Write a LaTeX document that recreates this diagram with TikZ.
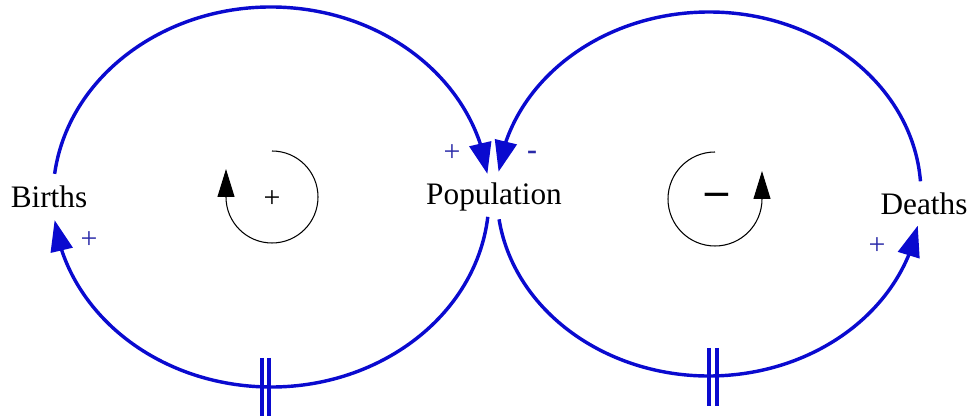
\documentclass[tikz,border=0pt]{standalone}
\usepackage{fontspec}
\setmainfont{Liberation Serif}
\usetikzlibrary{arrows.meta,bending}
\definecolor{linkblue}{HTML}{0A0ACF}
\definecolor{signblue}{HTML}{2A2AA8}

\begin{document}
\begin{tikzpicture}[
  x=0.02cm, y=0.02cm,
  var/.style={font=\fontsize{17.8}{20}\selectfont, inner sep=0pt, anchor=base},
  link/.style={draw=linkblue, line width=1.95pt, -{Triangle[length=0.62cm, width=0.44cm]}},
  delay/.style={draw=linkblue, line width=1.9pt},
  sgn/.style={text=signblue, font=\fontsize{17}{20}\selectfont, inner sep=0pt},
  loopline/.style={draw=black, line width=0.6pt, -{Triangle[length=0.56cm, width=0.34cm]}},
  looplbl/.style={font=\fontsize{17}{20}\selectfont, inner sep=0pt},
]
\useasboundingbox (0,0) rectangle (971,-418);

% variables
\node[var] (births) at (49,-208) {Births};
\node[var] (pop) at (494,-205) {Population};
\node[var] (deaths) at (924,-215) {Deaths};

% loop centres
\coordinate (c1) at (271,-197);
\coordinate (c2) at (709,-194);

% causal links
\draw[link] (c1) ++(173:218 and 190) arc[start angle=173, end angle=7, x radius=218, y radius=190];
\draw[link] (c1) ++(-6:218 and 190) arc[start angle=-6, end angle=-173, x radius=218, y radius=190];
\draw[link] (c2) ++(4:212 and 182) arc[start angle=4, end angle=173, x radius=212, y radius=182];
\draw[link] (c2) ++(188:212 and 182) arc[start angle=188, end angle=350, x radius=212, y radius=182];

% delays
\coordinate (d1) at (265.5,-388);
\coordinate (d2) at (713,-377);
\draw[delay] (d1) ++(-3.5,30) -- ++(0,-58);
\draw[delay] (d1) ++(3.5,30) -- ++(0,-58);
\draw[delay] (d2) ++(-4,29) -- ++(0,-58);
\draw[delay] (d2) ++(4,29) -- ++(0,-58);

% link polarities
\node[sgn] (s1) at (452,-153) {+};
\node[sgn, font=\fontsize{17}{20}\selectfont\bfseries] (s2) at (532,-155) {-};
\node[sgn] (s3) at (89,-240) {+};
\node[sgn] (s4) at (877,-246) {+};

% loop markers
\coordinate (r1) at (272,-197);
\coordinate (r2) at (715,-199);
\draw[loopline] (r1) ++(90:46) arc[start angle=90, end angle=-180, radius=46] -- ++(0,28);
\draw[loopline] (r2) ++(90:47) arc[start angle=90, end angle=360, radius=47] -- ++(0,28);
\node[looplbl] (l1) at (272,-199) {+};
\node[looplbl, font=\fontsize{26}{28}\selectfont\bfseries] (l2) at (716.5,-199) {–};

\end{tikzpicture}
\end{document}
